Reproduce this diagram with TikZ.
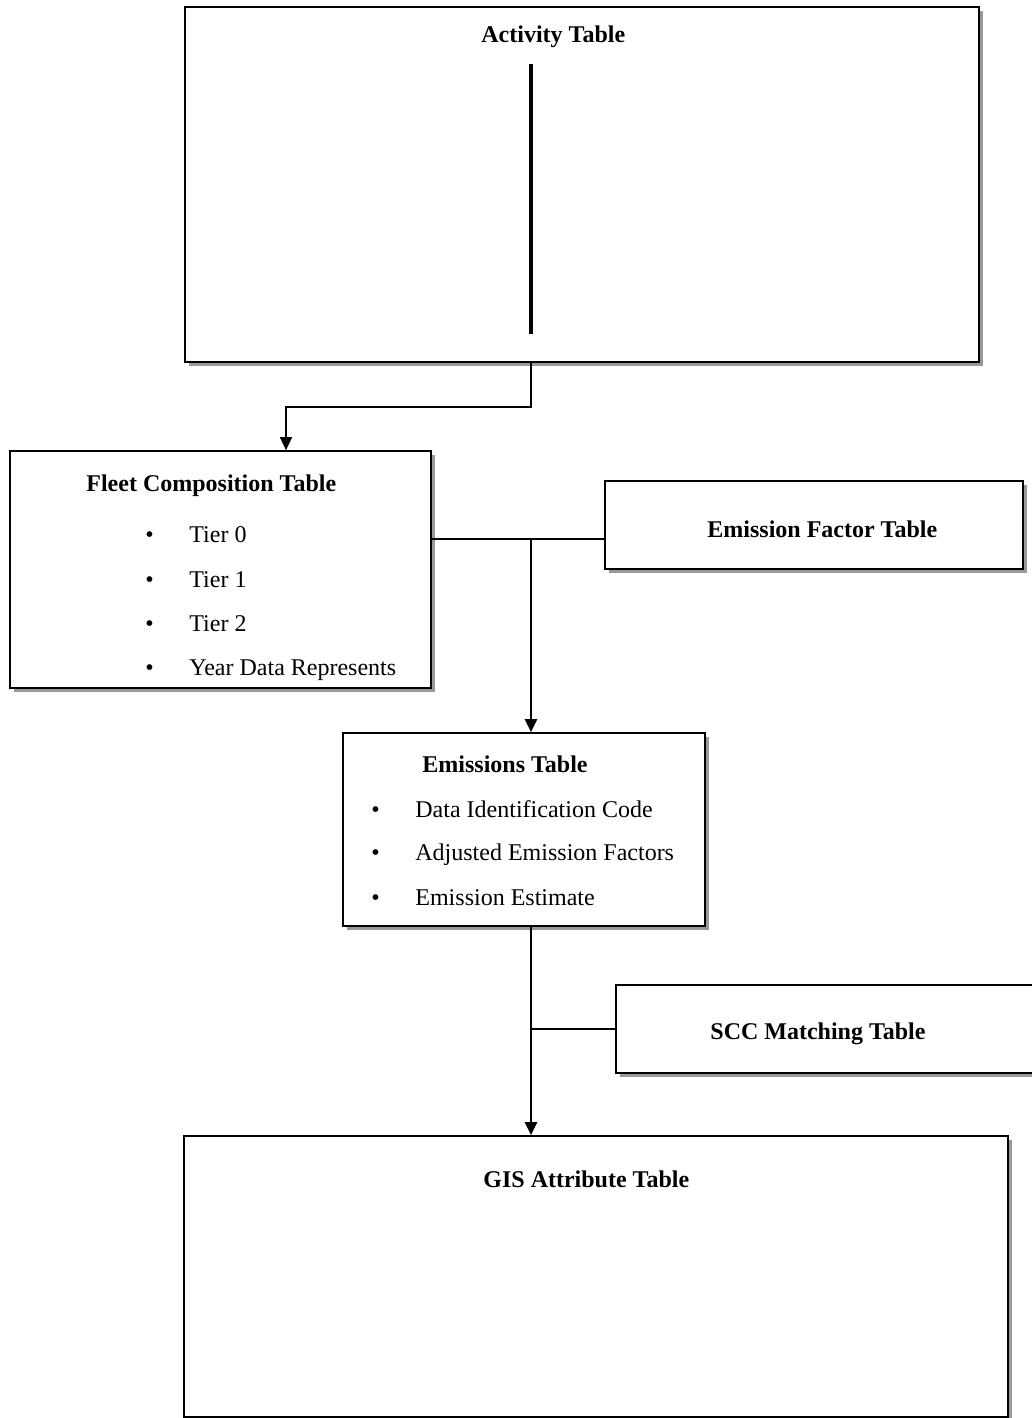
\documentclass[tikz,border=0pt]{standalone}
\usepackage{fontspec}
\setmainfont{Liberation Serif}
\usetikzlibrary{arrows.meta,shadows}
\begin{document}
\begin{tikzpicture}[x=0.5pt,y=-0.5pt,
  tbox/.style={draw, line width=0.85pt, fill=white, inner sep=0pt,
    drop shadow={shadow xshift=2pt, shadow yshift=-2.2pt, fill=black!40, opacity=1}},
  ttl/.style={anchor=base west, inner sep=0pt, font=\fontsize{12}{14}\selectfont\bfseries},
  itm/.style={anchor=base west, inner sep=0pt, font=\fontsize{12}{14}\selectfont},
  thin/.style={line width=0.8pt},
  arr/.style={line width=1.1pt, -{Triangle[length=6.5pt,width=6pt]}},
  arrthin/.style={line width=0.8pt, -{Triangle[length=6.5pt,width=6pt]}}]
\useasboundingbox (0,0) rectangle (1032,1418);

% boxes
\node[tbox, minimum width=397pt, minimum height=177.5pt] (act) at (582,184.5) {};
\node[tbox, minimum width=210.5pt, minimum height=118.5pt] (fleet) at (220.5,569.5) {};
\node[tbox, minimum width=209pt, minimum height=44pt] (ef) at (814,525) {};
\node[tbox, minimum width=181pt, minimum height=96.5pt] (em) at (524,829.5) {};
\node[tbox, minimum width=212pt, minimum height=44pt] (scc) at (828,1029) {};
\node[tbox, minimum width=412pt, minimum height=140.5pt] (gis) at (596,1276.5) {};

% texts
\node[ttl] (tact) at (481,43) {Activity Table};
\node[ttl] (tfleet) at (86,491) {Fleet Composition Table};
\node[itm] (fb1) at (145,542) {•};
\node[itm] (fi1) at (189,542) {Tier 0};
\node[itm] (fb2) at (145,587) {•};
\node[itm] (fi2) at (189,587) {Tier 1};
\node[itm] (fb3) at (145,631) {•};
\node[itm] (fi3) at (189,631) {Tier 2};
\node[itm] (fb4) at (145,675) {•};
\node[itm] (fi4) at (189,675) {Year Data Represents};
\node[ttl] (tef) at (707,537) {Emission Factor Table};
\node[ttl] (tem) at (422,772) {Emissions Table};
\node[itm] (eb1) at (371,817) {•};
\node[itm] (ei1) at (415,817) {Data Identification Code};
\node[itm] (eb2) at (371,860) {•};
\node[itm] (ei2) at (415,860) {Adjusted Emission Factors};
\node[itm] (eb3) at (371,905) {•};
\node[itm] (ei3) at (415,905) {Emission Estimate};
\node[ttl] (tscc) at (710,1039) {SCC Matching Table};
\node[ttl] (tgis) at (483,1187) {GIS Attribute Table};

% thick line inside activity box
\draw[line width=2pt] (531,64) -- (531,334);

% connectors
\coordinate (j1) at (531,407);
\coordinate (a1) at (286,407);
\draw[arrthin] (act.south -| j1) -- (j1) -- (a1) -- (a1 |- fleet.north);

\coordinate (j2) at (531,539);
\draw[thin] (j2 -| fleet.east) -- (j2 -| ef.west);
\draw[arr] (j2) -- (j2 |- em.north);

\coordinate (j3) at (531,1029);
\draw[arr] (j3 |- em.south) -- (j3 |- gis.north);
\draw[thin] (j3) -- (j3 -| scc.west);
\end{tikzpicture}
\end{document}
